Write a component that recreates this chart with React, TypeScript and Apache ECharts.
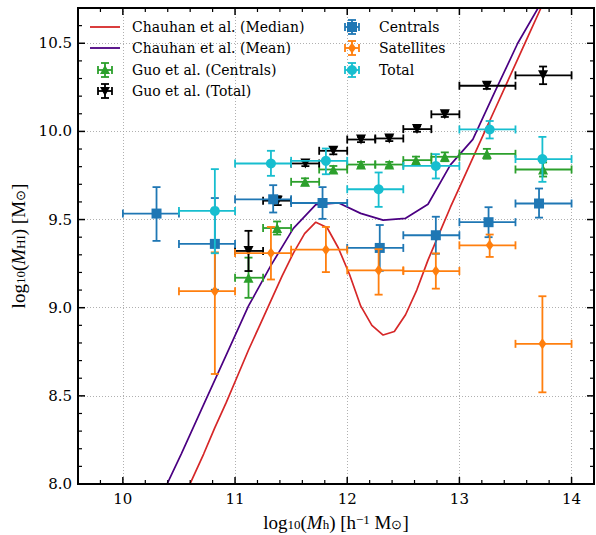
import React, { useEffect, useRef } from 'react';
import * as echarts from 'echarts';

// ---- Chauhan et al. model curves ----
const medianX = [10.52, 10.62, 10.72, 10.82, 10.92, 11.02, 11.12, 11.22, 11.32, 11.42, 11.52, 11.62, 11.72, 11.82, 11.92, 12.02, 12.12, 12.22, 12.32, 12.42, 12.52, 12.62, 12.72, 12.82, 12.92, 13.02, 13.12, 13.22, 13.32, 13.42, 13.52, 13.62, 13.72, 13.82];
const medianY = [7.89, 8.03, 8.17, 8.32, 8.46, 8.61, 8.76, 8.9, 9.04, 9.18, 9.31, 9.42, 9.485, 9.455, 9.34, 9.19, 9.01, 8.9, 8.845, 8.865, 8.96, 9.1, 9.27, 9.42, 9.57, 9.71, 9.85, 9.99, 10.13, 10.27, 10.41, 10.55, 10.69, 10.83];
const meanX = [10.32, 10.52, 10.72, 10.92, 11.12, 11.32, 11.52, 11.72, 11.92, 12.12, 12.32, 12.52, 12.72, 12.92, 13.12, 13.32, 13.52, 13.72, 13.92];
const meanY = [7.9, 8.17, 8.45, 8.73, 9.01, 9.24, 9.45, 9.585, 9.595, 9.535, 9.497, 9.507, 9.587, 9.81, 9.955, 10.23, 10.5, 10.72, 10.98];

// ---- Guo et al. ----
const guoCenX = [11.12, 11.375, 11.624, 11.876, 12.123, 12.375, 12.613, 12.87, 13.245, 13.746];
const guoCenY = [9.17, 9.452, 9.714, 9.784, 9.812, 9.812, 9.837, 9.856, 9.873, 9.784];
const guoCenErr = [0.114, 0.037, 0.02, 0.02, 0.015, 0.015, 0.02, 0.025, 0.028, 0.04];
const guoBinLo = [11.0, 11.25, 11.5, 11.75, 12.0, 12.25, 12.5, 12.75, 13.0, 13.5];
const guoBinHi = [11.25, 11.5, 11.75, 12.0, 12.25, 12.5, 12.75, 13.0, 13.5, 14.0];
const guoTotX = [11.12, 11.38, 11.627, 11.876, 12.123, 12.375, 12.622, 12.87, 13.245, 13.746];
const guoTotY = [9.322, 9.607, 9.818, 9.89, 9.954, 9.96, 10.013, 10.097, 10.259, 10.318];
const guoTotErr = [0.114, 0.025, 0.015, 0.02, 0.015, 0.015, 0.015, 0.015, 0.018, 0.05];

// ---- This work ----
const cenX = [10.3, 10.82, 11.34, 11.78, 12.29, 12.79, 13.26, 13.71];
const cenY = [9.534, 9.362, 9.615, 9.594, 9.339, 9.411, 9.485, 9.591];
const cenErrLo = [0.155, 0.26, 0.075, 0.09, 0.13, 0.105, 0.085, 0.08];
const cenErrHi = [0.15, 0.26, 0.08, 0.09, 0.13, 0.105, 0.085, 0.085];
const cenBinLo = [10.0, 10.5, 11.0, 11.5, 12.0, 12.5, 13.0, 13.5];
const cenBinHi = [10.5, 11.0, 11.5, 12.0, 12.5, 13.0, 13.5, 14.0];

const satX = [10.82, 11.32, 11.81, 12.28, 12.79, 13.27, 13.74];
const satY = [9.094, 9.31, 9.329, 9.212, 9.208, 9.354, 8.795];
const satErrLo = [0.47, 0.15, 0.127, 0.138, 0.1, 0.066, 0.275];
const satErrHi = [0.22, 0.148, 0.129, 0.12, 0.1, 0.061, 0.27];

const totX = [10.82, 11.32, 11.81, 12.28, 12.79, 13.27, 13.74];
const totY = [9.549, 9.818, 9.833, 9.672, 9.804, 10.011, 9.843];
const totErrLo = [0.24, 0.07, 0.076, 0.1, 0.071, 0.051, 0.129];
const totErrHi = [0.237, 0.072, 0.07, 0.095, 0.067, 0.048, 0.126];
const binLo7 = [10.5, 11.0, 11.5, 12.0, 12.5, 13.0, 13.5];
const binHi7 = [11.0, 11.5, 12.0, 12.5, 13.0, 13.5, 14.0];

// ---- axes ----
const xMin = 9.6, xMax = 14.2, yMin = 8.0, yMax = 10.7;
const xMajorTicks = [10, 11, 12, 13, 14];
const xMinorTicks = [9.8, 10.2, 10.4, 10.6, 10.8, 11.2, 11.4, 11.6, 11.8, 12.2, 12.4, 12.6, 12.8, 13.2, 13.4, 13.6, 13.8];
const yMajorTicks = [8.5, 9.0, 9.5, 10.0, 10.5];
const yMinorTicks = [8.1, 8.2, 8.3, 8.4, 8.6, 8.7, 8.8, 8.9, 9.1, 9.2, 9.3, 9.4, 9.6, 9.7, 9.8, 9.9, 10.1, 10.2, 10.3, 10.4, 10.6];

const C_RED = '#d62728', C_PURPLE = '#4b0082', C_GREEN = '#2ca02c', C_BLACK = '#000000';
const C_BLUE = '#1f77b4', C_ORANGE = '#ff7f0e', C_CYAN = '#17becf';

const GRID = { left: 78, right: 2, top: 8, bottom: 51 };
const W = 596, H = 535;

function errData(x: number[], y: number[], lo: number[], hi: number[], bl: number[], bh: number[]) {
  return x.map((v, i) => [v, y[i], bl[i], bh[i], y[i] - lo[i], y[i] + hi[i]]);
}

function errSeries(color: string, data: number[][], z: number) {
  return {
    type: 'custom',
    data,
    encode: { x: [0, 2, 3], y: [1, 4, 5] },
    z,
    silent: true,
    renderItem: (_p: any, api: any) => {
      const x = api.value(0), y = api.value(1);
      const l = api.coord([api.value(2), y]);
      const r = api.coord([api.value(3), y]);
      const b = api.coord([x, api.value(4)]);
      const t = api.coord([x, api.value(5)]);
      const c = 4;
      const style = { stroke: color, lineWidth: 1.8, fill: null };
      const seg = (x1: number, y1: number, x2: number, y2: number) => ({ type: 'line', shape: { x1, y1, x2, y2 }, style });
      return {
        type: 'group',
        children: [
          seg(l[0], l[1], r[0], r[1]),
          seg(l[0], l[1] - c, l[0], l[1] + c),
          seg(r[0], r[1] - c, r[0], r[1] + c),
          seg(b[0], b[1], t[0], t[1]),
          seg(t[0] - c, t[1], t[0] + c, t[1]),
          seg(b[0] - c, b[1], b[0] + c, b[1]),
        ],
      };
    },
  };
}

function markerSeries(color: string, x: number[], y: number[], symbol: string, size: any, z: number, rotate = 0) {
  return {
    type: 'scatter',
    data: x.map((v, i) => [v, y[i]]),
    symbol,
    symbolSize: size,
    symbolRotate: rotate,
    itemStyle: { color, opacity: 1 },
    z,
    silent: true,
  };
}

// legend helpers (graphic)
const LS = { fontFamily: 'DejaVu Serif', fontSize: 14, fill: '#000' };
function legendErr(cx: number, cy: number, color: string, marker: any) {
  const h = 7, c = 4;
  const st = { stroke: color, lineWidth: 1.8 };
  return [
    { type: 'line', shape: { x1: cx - h, y1: cy, x2: cx + h, y2: cy }, style: st },
    { type: 'line', shape: { x1: cx - h, y1: cy - c, x2: cx - h, y2: cy + c }, style: st },
    { type: 'line', shape: { x1: cx + h, y1: cy - c, x2: cx + h, y2: cy + c }, style: st },
    { type: 'line', shape: { x1: cx, y1: cy - h, x2: cx, y2: cy + h }, style: st },
    { type: 'line', shape: { x1: cx - c, y1: cy - h, x2: cx + c, y2: cy - h }, style: st },
    { type: 'line', shape: { x1: cx - c, y1: cy + h, x2: cx + c, y2: cy + h }, style: st },
    marker,
  ];
}

// Frame and inside ticks as thin filled rectangles, placed with the grid's linear scales
function axisDecor(): any[] {
  const pw = W - GRID.left - GRID.right, ph = H - GRID.top - GRID.bottom;
  const sx = (x: number) => GRID.left + ((x - xMin) / (xMax - xMin)) * pw;
  const sy = (y: number) => GRID.top + ((yMax - y) / (yMax - yMin)) * ph;
  const L = sx(xMin), R = sx(xMax), T = sy(yMax), B = sy(yMin);
  const out: any[] = [];
  const box = (x: number, y: number, w: number, h: number) =>
    out.push({ type: 'rect', z: 95, shape: { x, y, width: w, height: h }, style: { fill: '#000000' } });
  xMinorTicks.forEach((v) => { const p = sx(v); box(p - 0.6, B - 4, 1.2, 4); box(p - 0.6, T, 1.2, 4); });
  xMajorTicks.forEach((v) => { const p = sx(v); box(p - 0.75, B - 7, 1.5, 7); box(p - 0.75, T, 1.5, 7); });
  yMinorTicks.forEach((v) => { const p = sy(v); box(L, p - 0.6, 4, 1.2); box(R - 4, p - 0.6, 4, 1.2); });
  yMajorTicks.forEach((v) => { const p = sy(v); box(L, p - 0.75, 7, 1.5); box(R - 7, p - 0.75, 7, 1.5); });
  box(L - 1, B - 1, R - L + 2, 2);
  box(L - 1, T - 1, R - L + 2, 2);
  box(L - 1, T - 1, 2, B - T + 2);
  box(R - 1, T - 1, 2, B - T + 2);
  return out;
}

export default function App() {
  const ref = useRef<HTMLDivElement>(null);
  useEffect(() => {
    if (!ref.current) return;
    const chart = echarts.init(ref.current, undefined, { renderer: 'svg' });
    const tickFont = { fontFamily: 'DejaVu Serif', fontSize: 15, color: '#000' };
    const rich = {
      n: { fontFamily: 'Liberation Serif', fontSize: 19, color: '#000', lineHeight: 18, verticalAlign: 'middle' },
      i: { fontFamily: 'Liberation Serif', fontSize: 19, fontStyle: 'italic', color: '#000', lineHeight: 18, verticalAlign: 'middle' },
      s: { fontFamily: 'Liberation Serif', fontSize: 13, color: '#000', lineHeight: 18, verticalAlign: 'bottom' },
      p: { fontFamily: 'Liberation Serif', fontSize: 13, color: '#000', lineHeight: 18, verticalAlign: 'top' },
    };
    const gridCol = 'rgba(150,150,150,0.75)';

    const legendGraphics: any[] = [
      { type: 'line', shape: { x1: 90, y1: 27, x2: 120, y2: 27 }, style: { stroke: C_RED, lineWidth: 1.8 } },
      { type: 'text', x: 132, y: 27, style: { ...LS, text: 'Chauhan et al. (Median)', verticalAlign: 'middle' } },
      { type: 'line', shape: { x1: 90, y1: 48, x2: 120, y2: 48 }, style: { stroke: C_PURPLE, lineWidth: 1.8 } },
      { type: 'text', x: 132, y: 48, style: { ...LS, text: 'Chauhan et al. (Mean)', verticalAlign: 'middle' } },
      ...legendErr(105, 70, C_GREEN, { type: 'polygon', shape: { points: [[105, 65], [110, 74], [100, 74]] }, style: { fill: C_GREEN } }),
      { type: 'text', x: 132, y: 70, style: { ...LS, text: 'Guo et al. (Centrals)', verticalAlign: 'middle' } },
      ...legendErr(105, 91, C_BLACK, { type: 'polygon', shape: { points: [[100, 87], [110, 87], [105, 96]] }, style: { fill: C_BLACK } }),
      { type: 'text', x: 132, y: 91, style: { ...LS, text: 'Guo et al. (Total)', verticalAlign: 'middle' } },
      ...legendErr(352, 27, C_BLUE, { type: 'rect', shape: { x: 347, y: 22, width: 10, height: 10 }, style: { fill: C_BLUE } }),
      { type: 'text', x: 379, y: 27, style: { ...LS, text: 'Centrals', verticalAlign: 'middle' } },
      ...legendErr(352, 48, C_ORANGE, { type: 'polygon', shape: { points: [[352, 42.5], [356, 48], [352, 53.5], [348, 48]] }, style: { fill: C_ORANGE } }),
      { type: 'text', x: 379, y: 48, style: { ...LS, text: 'Satellites', verticalAlign: 'middle' } },
      ...legendErr(352, 70, C_CYAN, { type: 'circle', shape: { cx: 352, cy: 70, r: 5 }, style: { fill: C_CYAN } }),
      { type: 'text', x: 379, y: 70, style: { ...LS, text: 'Total', verticalAlign: 'middle' } },
    ].map((g) => ({ ...g, z: 100 }));

    chart.setOption({
      animation: false,
      grid: { ...GRID, containLabel: false, outerBoundsMode: 'none' },
      xAxis: {
        type: 'value', min: xMin, max: xMax,
        axisLine: { show: true, onZero: false, lineStyle: { color: '#000000', width: 2 } },
        axisTick: { show: false },
        axisLabel: { ...tickFont, margin: 7, showMinLabel: false, showMaxLabel: false, formatter: (v: number) => String(Math.round(v)) },
        splitLine: { show: true, lineStyle: { color: gridCol, type: [1, 2], width: 1 } },
        name: '{n|log}{s|10}{n|(}{i|M}{s|h}{n|) [h}{p|−1}{n| M}{s|⊙}{n|]}',
        nameLocation: 'middle', nameGap: 29, nameTextStyle: { rich },
      },
      yAxis: {
        type: 'value', min: yMin, max: yMax, interval: 0.5,
        axisLine: { show: true, onZero: false, lineStyle: { color: '#000000', width: 2 } },
        axisTick: { show: false },
        axisLabel: { ...tickFont, margin: 6, showMinLabel: true, showMaxLabel: false, formatter: (v: number) => v.toFixed(1) },
        splitLine: { show: true, lineStyle: { color: gridCol, type: [1, 2], width: 1 } },
        name: '{n|log}{s|10}{n|(}{i|M}{s|HI}{n|) [M}{s|⊙}{n|]}',
        nameLocation: 'middle', nameGap: 49, nameRotate: 90, nameTextStyle: { rich },
      },
      series: [
        { type: 'line', data: medianX.map((v, i) => [v, medianY[i]]), showSymbol: false, lineStyle: { color: C_RED, width: 1.7 }, z: 2, clip: true, silent: true },
        { type: 'line', data: meanX.map((v, i) => [v, meanY[i]]), showSymbol: false, lineStyle: { color: C_PURPLE, width: 1.7 }, z: 2, clip: true, silent: true },
        errSeries(C_GREEN, errData(guoCenX, guoCenY, guoCenErr, guoCenErr, guoBinLo, guoBinHi), 3),
        markerSeries(C_GREEN, guoCenX, guoCenY, 'triangle', 10, 3),
        errSeries(C_BLACK, errData(guoTotX, guoTotY, guoTotErr, guoTotErr, guoBinLo, guoBinHi), 4),
        markerSeries(C_BLACK, guoTotX, guoTotY, 'triangle', 10, 4, 180),
        errSeries(C_BLUE, errData(cenX, cenY, cenErrLo, cenErrHi, cenBinLo, cenBinHi), 5),
        markerSeries(C_BLUE, cenX, cenY, 'rect', 10, 5),
        errSeries(C_ORANGE, errData(satX, satY, satErrLo, satErrHi, binLo7, binHi7), 6),
        markerSeries(C_ORANGE, satX, satY, 'diamond', [8, 11], 6),
        errSeries(C_CYAN, errData(totX, totY, totErrLo, totErrHi, binLo7, binHi7), 7),
        markerSeries(C_CYAN, totX, totY, 'circle', 10, 7),
      ],
      graphic: [...legendGraphics, ...axisDecor()],
    });
    return () => chart.dispose();
  }, []);
  return <div ref={ref} style={{ position: 'fixed', left: 0, top: 0, width: W, height: H, background: '#fff' }} />;
}
